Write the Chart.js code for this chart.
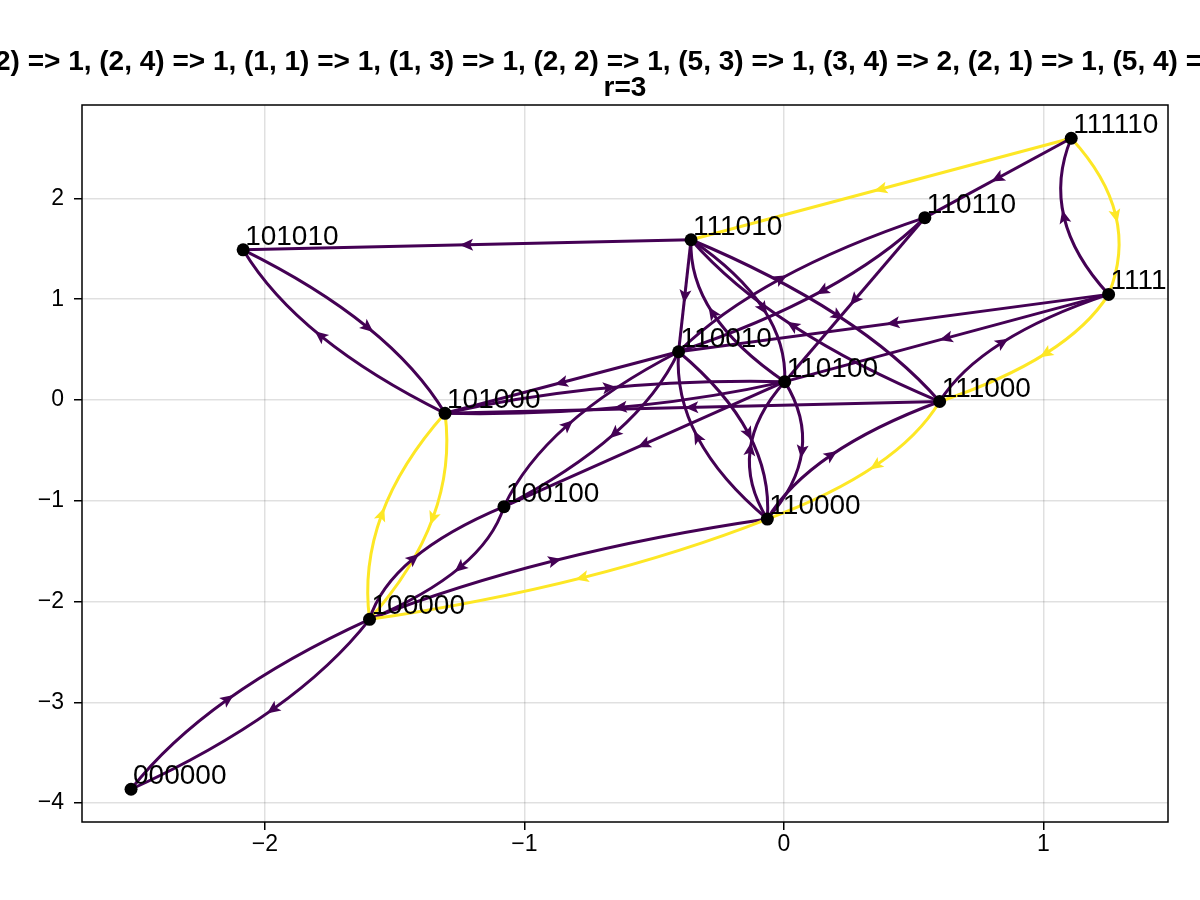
<!DOCTYPE html>
<html>
<head>
<meta charset="utf-8">
<script src="https://cdn.jsdelivr.net/npm/chart.js@4.4.1/dist/chart.umd.min.js"></script>
<style>
  html, body { margin: 0; padding: 0; background: #fff; }
</style>
</head>
<body>
<canvas id="graphChart" width="1200" height="900"></canvas>
<script>
// ========== DADOS DO GRAFO ==========
const titleLines = [
  '2) => 1, (2, 4) => 1, (1, 1) => 1, (1, 3) => 1, (2, 2) => 1, (5, 3) => 1, (3, 4) => 2, (2, 1) => 1, (5, 4) =',
  'r=3'
];

const nodeLabels = ['000000', '100000', '100100', '101000', '101010', '110000', '110010',
                    '110100', '110110', '111000', '111010', '111100', '111110'];
const nodeX = [-2.516, -1.597, -1.079, -1.306, -2.084, -0.064, -0.406, 0.003, 0.543, 0.600, -0.358, 1.251, 1.107];
const nodeY = [-3.862, -2.176, -1.058, -0.132, 1.490, -1.181, 0.479, 0.182, 1.809, -0.015, 1.590, 1.048, 2.597];

// arestas dirigidas: origem -> destino (índices em nodeLabels) e peso
const edgeFrom   = [0, 1, 1, 3, 1, 2, 1, 5, 2, 6, 4, 3, 3, 7, 6, 9, 7, 6, 5, 5, 7, 5, 9, 10, 10, 10, 7, 10, 9, 6, 8, 8, 11, 11, 11, 9, 12, 12, 12, 11];
const edgeTo     = [1, 0, 3, 1, 2, 1, 5, 1, 6, 2, 3, 4, 7, 3, 3, 3, 2, 5, 6, 7, 5, 9, 5, 4, 6, 7, 10, 9, 10, 8, 6, 7, 6, 7, 9, 11, 10, 8, 11, 12];
const edgeWeight = [1, 1, 2, 2, 1, 1, 1, 2, 1, 1, 1, 1, 1, 1, 1, 1, 1, 1, 1, 1, 1, 1, 2, 1, 1, 1, 1, 1, 1, 1, 1, 1, 1, 1, 2, 1, 2, 1, 2, 1];

const xTicks = [-2, -1, 0, 1];
const yTicks = [-4, -3, -2, -1, 0, 1, 2];

const purple = '#440154';
const yellow = '#fde725';
const curveDistance = 0.1;

const minus = v => (v < 0 ? '\u2212' + Math.abs(v) : String(v));

// ========== PLUGINS ==========
const edgePlugin = {
  id: 'graphEdges',
  beforeDatasetsDraw(chart) {
    const { ctx, chartArea, scales } = chart;
    const sx = scales.x, sy = scales.y;
    const px = v => sx.getPixelForValue(v);
    const py = v => sy.getPixelForValue(v);

    ctx.save();
    ctx.beginPath();
    ctx.rect(chartArea.left, chartArea.top, chartArea.width, chartArea.height);
    ctx.clip();

    const heads = [];
    edgeFrom.forEach((a, i) => {
      const b = edgeTo[i];
      const color = edgeWeight[i] >= 2 ? yellow : purple;
      const x1 = nodeX[a], y1 = nodeY[a], x2 = nodeX[b], y2 = nodeY[b];
      const twoWay = edgeFrom.some((f, j) => f === b && edgeTo[j] === a);

      // curva para a esquerda do sentido quando há aresta de volta
      let nx = 0, ny = 0;
      if (twoWay) {
        const len = Math.hypot(x2 - x1, y2 - y1);
        nx = -(y2 - y1) / len;
        ny = (x2 - x1) / len;
      }
      const mx = (x1 + x2) / 2, my = (y1 + y2) / 2;
      const cx = mx + 2 * curveDistance * nx, cy = my + 2 * curveDistance * ny;

      ctx.beginPath();
      ctx.moveTo(px(x1), py(y1));
      ctx.quadraticCurveTo(px(cx), py(cy), px(x2), py(y2));
      ctx.strokeStyle = color;
      ctx.lineWidth = 3;
      ctx.stroke();

      heads.push({
        x: px(mx + curveDistance * nx),
        y: py(my + curveDistance * ny),
        angle: Math.atan2(py(y2) - py(y1), px(x2) - px(x1)),
        color: color
      });
    });

    heads.forEach(h => {
      ctx.save();
      ctx.translate(h.x, h.y);
      ctx.rotate(h.angle);
      ctx.beginPath();
      ctx.moveTo(7.5, 0);
      ctx.lineTo(-6, -6);
      ctx.lineTo(-3, 0);
      ctx.lineTo(-6, 6);
      ctx.closePath();
      ctx.fillStyle = h.color;
      ctx.fill();
      ctx.restore();
    });
    ctx.restore();
  },
  afterDatasetsDraw(chart) {
    const { ctx, chartArea, scales } = chart;
    ctx.save();
    ctx.beginPath();
    ctx.rect(chartArea.left, chartArea.top, chartArea.width, chartArea.height);
    ctx.clip();
    ctx.font = '28px "Liberation Sans", Arial, sans-serif';
    ctx.fillStyle = '#000';
    ctx.textAlign = 'left';
    ctx.textBaseline = 'alphabetic';
    nodeLabels.forEach((label, i) => {
      ctx.fillText(label, scales.x.getPixelForValue(nodeX[i]) + 2, scales.y.getPixelForValue(nodeY[i]) - 5);
    });
    ctx.restore();
  },
  afterDraw(chart) {
    const { ctx, chartArea } = chart;
    ctx.save();
    ctx.strokeStyle = '#000';
    ctx.lineWidth = 1.5;
    ctx.strokeRect(chartArea.left, chartArea.top, chartArea.width, chartArea.height);

    // título (centrado na área do gráfico, cortado nas bordas)
    ctx.fillStyle = '#000';
    ctx.font = 'bold 28px "Liberation Sans", Arial, sans-serif';
    ctx.textAlign = 'left';
    ctx.textBaseline = 'alphabetic';
    ctx.fillText(titleLines[0], -5, 70);
    ctx.textAlign = 'center';
    ctx.fillText(titleLines[1], (chartArea.left + chartArea.right) / 2, 96);
    ctx.restore();
  }
};

// ========== CHART ==========
const canvas = document.getElementById('graphChart');
const ctx = canvas.getContext('2d');

window.graphChartInstance = new Chart(ctx, {
  type: 'scatter',
  data: {
    datasets: [{
      data: nodeX.map((x, i) => ({ x: x, y: nodeY[i] })),
      pointRadius: 6.5,
      pointBackgroundColor: '#000',
      pointBorderWidth: 0,
      pointHoverRadius: 6.5
    }]
  },
  options: {
    responsive: false,
    animation: false,
    events: [],
    layout: { padding: { left: 0, right: 32, top: 105, bottom: 0 } },
    plugins: {
      legend: { display: false },
      tooltip: { enabled: false },
      title: { display: false }
    },
    scales: {
      x: {
        type: 'linear',
        min: -2.705,
        max: 1.48,
        afterBuildTicks: scale => { scale.ticks = xTicks.map(v => ({ value: v })); },
        afterFit: scale => { scale.height = 78; },
        ticks: {
          color: '#000',
          font: { size: 23, family: '"Liberation Sans", Arial, sans-serif' },
          padding: 1,
          maxRotation: 0,
          callback: v => minus(v)
        },
        grid: {
          color: 'rgba(0,0,0,0.12)',
          lineWidth: 1.5,
          tickColor: '#000',
          tickLength: 8,
          tickWidth: 1.5
        },
        border: { display: false }
      },
      y: {
        type: 'linear',
        min: -4.187,
        max: 2.927,
        afterBuildTicks: scale => { scale.ticks = yTicks.map(v => ({ value: v })); },
        afterFit: scale => { scale.width = 82; },
        ticks: {
          color: '#000',
          font: { size: 23, family: '"Liberation Sans", Arial, sans-serif' },
          padding: 10,
          callback: v => minus(v)
        },
        grid: {
          color: 'rgba(0,0,0,0.12)',
          lineWidth: 1.5,
          tickColor: '#000',
          tickLength: 8,
          tickWidth: 1.5
        },
        border: { display: false }
      }
    }
  },
  plugins: [edgePlugin]
});
</script>
</body>
</html>
